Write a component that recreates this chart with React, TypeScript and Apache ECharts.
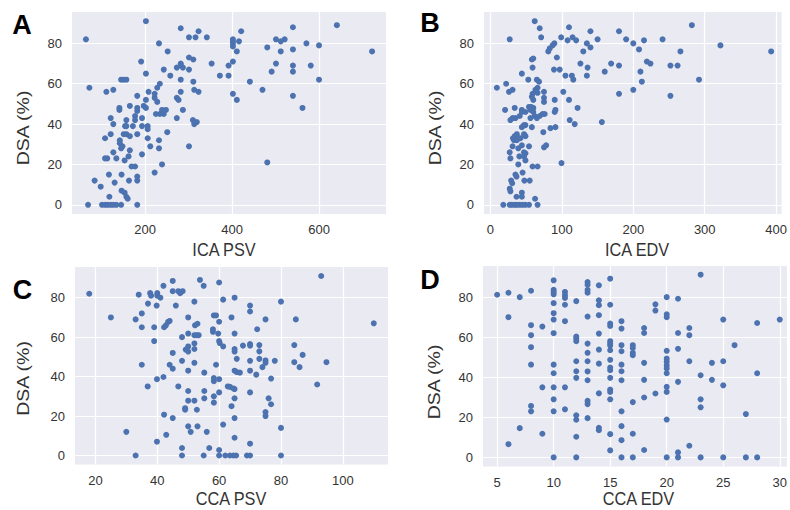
import React, { useEffect, useRef } from "react";
import * as echarts from "echarts";

const panelLetters = ["A", "B", "C", "D"];
const xTitles = ["ICA PSV", "ICA EDV", "CCA PSV", "CCA EDV"];
const yTitle = "DSA (%)";
const yTicks = [0, 20, 40, 60, 80];
const xTickSets = [
  [200, 400, 600],
  [0, 100, 200, 300, 400],
  [20, 40, 60, 80, 100],
  [5, 10, 15, 20, 25, 30],
];

// Panel A: ICA PSV vs DSA (%)
const icaPsvDsa: [number, number][] = [
  [202, 91], [64, 82], [282, 87.5], [323, 86], [301, 83], [316, 83], [342, 83], [232, 80], [252, 76], [191, 71],
  [301, 73], [311, 72], [282, 70], [282, 69], [273, 68], [287, 68], [301, 67], [243, 67], [202, 65], [258, 64],
  [353, 70], [372, 64], [392, 64], [392, 69], [402, 71], [402, 82], [402, 81], [402, 80], [402, 78.5], [416, 81],
  [411, 76], [421, 86], [402, 55], [411, 52], [441, 61], [470, 57], [481, 78], [481, 21], [491, 66], [501, 82],
  [501, 70], [512, 81], [512, 76], [521, 82], [540, 88], [540, 77], [540, 69], [540, 66], [540, 54], [562, 48],
  [571, 80], [581, 69], [600, 79], [600, 62], [641, 89], [722, 76],
  [72, 58], [111, 56], [127, 57], [145, 62], [151, 62], [157, 62], [182, 54], [202, 52], [208, 56], [222, 55],
  [228, 58], [234, 60], [222, 53], [228, 51], [165, 49], [182, 48], [182, 46.5], [197, 49], [202, 48], [141, 48],
  [141, 47], [121, 43], [127, 40], [157, 42], [177, 44], [177, 42], [193, 43], [225, 45], [234, 45], [243, 45],
  [239, 47], [248, 47], [287, 47], [273, 43], [310, 42], [319, 41], [313, 40], [313, 57], [323, 56], [311, 61],
  [282, 62], [273, 53], [277, 52], [282, 56],
  [108, 33], [121, 35], [113, 23], [108, 23], [127, 26], [134, 23], [142, 32], [142, 30.5], [145, 28], [148, 29],
  [151, 35], [157, 35], [154, 39], [157, 39], [165, 34], [162, 24], [165, 27], [153, 22], [169, 19], [177, 19],
  [172, 39], [182, 35], [193, 39], [206, 39], [206, 37.5], [206, 33], [212, 29], [193, 25], [232, 32], [232, 28],
  [251, 36], [239, 20], [222, 16], [301, 29], [182, 14], [182, 12], [163, 12], [146, 15], [117, 15], [130, 11],
  [84, 12], [98, 9], [146, 7], [153, 6], [157, 4], [160, 3], [118, 4],
  [69, 0], [101, 0], [108, 0], [114, 0], [121, 0], [127, 0], [134, 0], [145, 0], [182, 0],
];

// Panel B: ICA EDV vs DSA (%)
const icaEdvDsa: [number, number][] = [
  [62, 91], [69, 87.5], [110, 88], [140, 86], [180, 86], [282, 89], [27, 82], [71, 83], [99, 83], [115, 83],
  [108, 81.5], [120, 81.5], [150, 82], [190, 82], [215, 81.5], [241, 82], [200, 80], [135, 80], [140, 78], [322, 79],
  [208, 77], [393, 76], [266, 76], [130, 76], [89.5, 80], [87, 79], [83, 77.5], [81, 76], [93, 73], [58, 72],
  [60, 72.5], [126, 70], [169, 70], [219, 71], [224, 70], [180, 69], [252, 69], [262, 69], [136, 68], [59, 68],
  [89, 67], [97, 67], [160, 66], [210, 66], [44, 65], [105, 64], [114, 64], [135, 64], [116, 62], [212, 61],
  [292, 62], [65, 62], [68, 61], [53, 62],
  [9, 58], [22, 60], [26, 56], [31, 57], [63, 57], [66, 58], [66, 55.5], [75, 56], [75, 53], [75, 51],
  [59, 55], [58, 53.5], [60, 52], [102, 56], [200, 57], [180, 55], [252, 54], [90, 52], [110, 52], [122, 48],
  [156, 41], [118, 40], [111, 42],
  [20.5, 47], [34, 48], [44, 47], [49, 46], [54, 48.5], [57, 48.5], [60, 48], [56, 47], [60, 46], [62, 44],
  [65, 43], [69, 44], [73, 45], [76, 45], [91, 47], [90, 46], [28, 42], [31, 43], [35, 43], [41, 44],
  [44, 46], [56, 43], [58, 38.5], [44, 38.5], [47, 39.5], [49, 39.5], [91, 38.5], [84, 38], [74, 36], [75, 28.5],
  [78, 29.5],
  [31.5, 33], [34, 34], [37, 35], [40, 33], [33, 32], [37, 32], [42, 33], [47, 35], [49, 34], [44, 29.5],
  [39, 28], [31, 29], [54, 29], [27, 26], [47, 26], [49, 25.5], [40.5, 24], [47, 24], [28, 23], [49, 22],
  [39, 20], [59, 19], [66, 19], [99.5, 20.7], [45, 16], [35, 15], [36.5, 14], [29, 12], [47.5, 12], [55, 12],
  [30.5, 10.7], [27, 8], [28, 6.7], [44, 6], [44, 4], [36.5, 4], [62.5, 3],
  [18, 0], [27, 0], [30, 0], [34, 0], [37, 0], [41, 0], [45, 0], [49, 0], [54, 0], [66, 0],
];

// Panel C: CCA PSV vs DSA (%)
const ccaPsvDsa: [number, number][] = [
  [93, 91], [18, 82], [25, 70], [34, 81.5], [37.7, 82.3], [38, 81], [40, 82.3], [40, 81], [41, 80], [37, 77],
  [39.8, 76], [42, 86], [45, 88.5], [45, 83.3], [46.8, 83.3], [47.4, 82.3], [48.2, 83.3], [46, 76], [53.8, 89], [55, 86],
  [60, 87.7], [52, 78], [61.3, 79], [65, 80], [70, 76], [70, 73], [80, 78],
  [33, 69], [35, 72], [35, 65], [39, 65], [42.2, 65], [42.8, 66], [43.5, 67.7], [44, 68.2], [50, 70], [52.2, 66],
  [53, 66.8], [58.3, 71], [59, 71], [60, 67.8], [64, 70], [75, 69], [84.8, 69], [72.3, 64], [110, 67], [58, 64],
  [58, 62.7], [52, 61], [52.8, 61], [53.4, 61], [50, 61.8], [48, 60], [39, 58], [59.7, 61.8], [60, 58], [60.2, 57],
  [61.3, 55.3], [65, 61.8], [65, 54], [65, 52.7], [67.7, 55.7], [70, 56.5], [70, 55.7], [73, 56], [73, 52.8], [52, 56.8],
  [52, 54], [50, 55.3], [49.2, 53.7], [50, 52.7], [45, 52],
  [35, 46], [44, 46], [45, 44], [48, 48], [52, 47], [59, 46], [65.7, 49], [70, 48], [73, 49], [75, 48.2],
  [75, 47], [78, 48], [84.3, 56], [87, 51], [84.3, 47.3], [86, 44.8], [94.7, 47.3], [50, 43], [55.2, 42], [65, 43],
  [65.7, 42.3], [66.7, 42], [70, 43], [72, 41], [74, 44.8], [58.3, 39.3], [58.3, 37.7], [60, 38.7], [39.9, 38.7], [42, 39.8],
  [36.9, 35], [46.8, 35], [62.8, 35], [63.5, 34.8], [64.6, 34], [65, 33.7], [76.8, 39], [91.7, 36],
  [50, 32.7], [55.2, 32.7], [60, 32], [70, 32], [52, 27.8], [50, 27.8], [55.2, 29], [58.3, 30], [58.3, 26.8], [65, 29],
  [76, 29], [76.8, 26], [75, 22], [75, 20], [49, 24], [49, 23.2], [52.8, 23.2], [64, 25], [42.2, 20.7], [45, 19],
  [65, 19], [50, 14.8], [53, 14.8], [61.3, 15.7], [80, 14], [30, 12], [50.8, 12], [56, 12], [42.9, 10.5], [65, 9],
  [39.9, 7], [70, 6], [48, 3.8], [56.8, 3.8], [60, 2.8],
  [33, 0], [48, 0], [55, 0], [60, 0], [62, 0], [63.5, 0], [64.6, 0], [65.5, 0], [69, 0], [70, 0], [80, 0],
];

// Panel D: CCA EDV vs DSA (%)
const ccaEdvDsa: [number, number][] = [
  [5, 81.2],
  [6, 82.2], [6, 70], [6, 6.6],
  [7, 80], [7, 14.6],
  [8, 83.2], [8, 66], [8, 61], [8, 55], [8, 46.3], [8, 25.7], [8, 23],
  [9, 65.3], [9, 35], [9, 11.8],
  [10, 88.4], [10, 83.7], [10, 82.6], [10, 81.4], [10, 77], [10, 72], [10, 68.8], [10, 62], [10, 46.3], [10, 42],
  [10, 35], [10, 29], [10, 23], [10, 0],
  [11, 82.6], [11, 81], [11, 79.6], [11, 76.2], [11, 68], [11, 35], [11, 24],
  [12, 78], [12, 60.3], [12, 59.3], [12, 58], [12, 48], [12, 43], [12, 39.7], [12, 21], [12, 18.8], [12, 10.3], [12, 0],
  [13, 87.5], [13, 86.2], [13, 83.6], [13, 82.2], [13, 70.3], [13, 56.8], [13, 52.2], [13, 48], [13, 42.9], [13, 38.5],
  [13, 28.2], [13, 26.6], [13, 19.6],
  [14, 85.9], [14, 78.4], [14, 76], [14, 71], [14, 61.8], [14, 53.8], [14, 46.8], [14, 32], [14, 14.8], [14, 13.6],
  [15, 89.2], [15, 76.2], [15, 66.8], [15, 65.6], [15, 58], [15, 56.8], [15, 55.8], [15, 53.5], [15, 48.7], [15, 44.8],
  [15, 43.5], [15, 39.7], [15, 33.9], [15, 32.7], [15, 29], [15, 11.6], [15, 3.5],
  [16, 68], [16, 64.3], [16, 56], [16, 53], [16, 46.3], [16, 43], [16, 38.5], [16, 23], [16, 15.6], [16, 8.6], [16, 0],
  [17, 56], [17, 54.6], [17, 52.2], [17, 51], [17, 27.6], [17, 11.8], [17, 0],
  [18, 64.6], [18, 62.1], [18, 47.2], [18, 38.7], [18, 29.9], [18, 3.7],
  [19, 76.4], [19, 73.3], [19, 31.9],
  [20, 80], [20, 71.4], [20, 70], [20, 53.2], [20, 49.3], [20, 47.7], [20, 46], [20, 44.4], [20, 42], [20, 35.2],
  [20, 32.7], [20, 18.9], [20, 0],
  [21, 79.2], [21, 62.1], [21, 54.2], [21, 37.7], [21, 2.5], [21, 0],
  [22, 64.6], [22, 61], [22, 48], [22, 5.8],
  [23, 91.2], [23, 41], [23, 29], [23, 25], [23, 0],
  [24, 47.2], [24, 38.7],
  [25, 68.8], [25, 48], [25, 36], [25, 0],
  [26, 56],
  [27, 21.6], [27, 0],
  [28, 67.1], [28, 42], [28, 0],
  [30, 68.8],
];

const panelData = [icaPsvDsa, icaEdvDsa, ccaPsvDsa, ccaEdvDsa];
// visible axis ranges (the right-hand panels are cropped at the page edge)
const xRanges: [number, number][] = [[32, 754], [-9, 407.5], [13.4, 114.6], [3.75, 30.63]];
const yRange: [number, number] = [-4.55, 95.55];

const grids = [
  { left: 72, top: 12, width: 314, height: 202 },
  { left: 484, top: 12, width: 306, height: 202 },
  { left: 75, top: 267, width: 313, height: 197.5 },
  { left: 483, top: 266, width: 307, height: 200.5 },
];
const letterPos = [[22, 24.5], [430, 22.5], [22.5, 290], [430, 279.5]];
const yTitlePos = [[22.5, 128], [435, 128], [22.5, 378.5], [433.5, 382]];
const xTitlePos = [[224, 250], [637, 250], [231, 498.5], [638.5, 499]];

const FONT = "'Liberation Sans', Arial, sans-serif";
const TEXT = "#333333";
const SQUEEZE = 0.88;

export default function App() {
  const ref = useRef<HTMLDivElement>(null);
  useEffect(() => {
    if (!ref.current) return;
    const chart = echarts.init(ref.current, null, { renderer: "svg" });
    const graphics: any[] = [];
    for (let i = 0; i < 4; i++) {
      graphics.push({
        type: "text",
        x: letterPos[i][0],
        y: letterPos[i][1],
        style: {
          text: panelLetters[i],
          fontSize: 27,
          fontWeight: "bold",
          fontFamily: FONT,
          fill: "#000000",
          align: "center",
          verticalAlign: "middle",
        },
      });
      graphics.push({
        type: "text",
        x: yTitlePos[i][0],
        y: yTitlePos[i][1],
        rotation: Math.PI / 2,
        scaleY: SQUEEZE,
        style: {
          text: yTitle,
          fontSize: 19.5,
          fontFamily: FONT,
          fill: TEXT,
          align: "center",
          verticalAlign: "middle",
        },
      });
      graphics.push({
        type: "text",
        x: xTitlePos[i][0],
        y: xTitlePos[i][1],
        scaleX: SQUEEZE,
        style: {
          text: xTitles[i],
          fontSize: 18.5,
          fontFamily: FONT,
          fill: TEXT,
          align: "center",
          verticalAlign: "middle",
        },
      });
    }
    const splitLine = { show: true, lineStyle: { color: "#ffffff", width: 1.2 } };
    chart.setOption({
      animation: false,
      backgroundColor: "#ffffff",
      grid: grids.map((g) => ({
        ...g,
        show: true,
        backgroundColor: "#EAEAF2",
        borderWidth: 0,
        containLabel: false,
      })),
      xAxis: grids.map((_, i) => ({
        type: "value",
        gridIndex: i,
        min: xRanges[i][0],
        max: xRanges[i][1],
        axisLine: { show: false },
        axisTick: { show: false, customValues: xTickSets[i] },
        splitLine,
        axisLabel: {
          margin: 9,
          fontSize: 13,
          fontFamily: FONT,
          color: TEXT,
          customValues: xTickSets[i],
          showMinLabel: true,
          showMaxLabel: true,
        },
      })),
      yAxis: grids.map((_, i) => ({
        type: "value",
        gridIndex: i,
        min: yRange[0],
        max: yRange[1],
        axisLine: { show: false },
        axisTick: { show: false, customValues: yTicks },
        splitLine,
        axisLabel: {
          margin: 10,
          fontSize: 13,
          fontFamily: FONT,
          color: TEXT,
          customValues: yTicks,
        },
      })),
      series: panelData.map((d, i) => ({
        type: "scatter",
        xAxisIndex: i,
        yAxisIndex: i,
        data: d,
        symbol: "circle",
        symbolSize: 6,
        itemStyle: { color: "#4C72B0", opacity: 1 },
        emphasis: { disabled: true },
      })),
      graphic: graphics,
    });
    return () => chart.dispose();
  }, []);
  return (
    <div
      ref={ref}
      style={{ position: "fixed", left: 0, top: 0, width: 790, height: 510, background: "#fff" }}
    />
  );
}
